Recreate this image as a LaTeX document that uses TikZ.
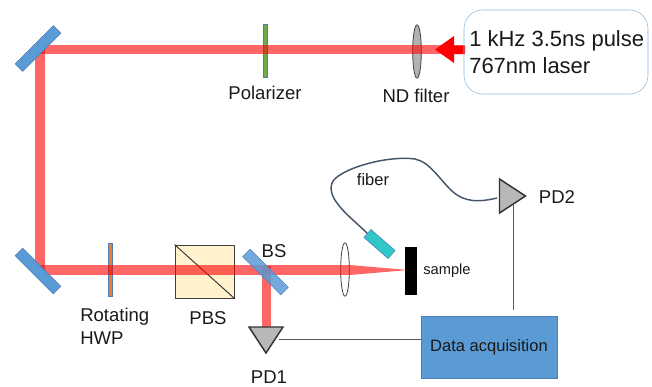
\documentclass[tikz,border=0pt]{standalone}
\usepackage{fontspec}
\usetikzlibrary{shapes.geometric}
\setmainfont{Liberation Sans}
\definecolor{mirrorblue}{HTML}{5B9BD5}
\definecolor{edgeblue}{HTML}{4A7EBB}
\definecolor{wiregray}{HTML}{595959}
\definecolor{fibercolor}{HTML}{44546A}
\definecolor{platefill}{HTML}{70AD47}
\definecolor{hwpfill}{HTML}{ED7D31}
\definecolor{pbsfill}{HTML}{FFF2CC}
\definecolor{tealfill}{HTML}{2FC7C7}
\tikzset{
  beam/.style={line width=6.9pt,red,opacity=0.6},
  mirror/.style={draw=edgeblue,fill=mirrorblue,minimum width=40.5pt,minimum height=8pt,inner sep=0pt},
  plate/.style={draw=edgeblue,minimum width=3pt,minimum height=40pt,inner sep=0pt},
  lens/.style={draw=black!75,line width=0.6pt,ellipse,minimum width=6.5pt,minimum height=40pt,inner sep=0pt},
  detector/.style={draw=black!80,fill=black!28,line width=1.1pt},
  wire/.style={draw=wiregray,line width=0.7pt},
  lbl/.style={font=\fontsize{13.9pt}{16.2pt}\selectfont,text=black!90,inner sep=0pt}
}
\begin{document}
\begin{tikzpicture}[x=0.75pt,y=-0.75pt]
  \useasboundingbox (0,0) rectangle (652,386);
  \def\mydetector{(-17,-13) -- (17,-13) -- (0,13) -- cycle}
  % parts under the beam
  \node [plate,fill=platefill] (polarizer) at (265,51) {};
  \node [plate,fill=hwpfill] (hwp) at (110,269.5) {};
  \node [draw=black!75,fill=pbsfill,line width=0.7pt,minimum width=44.25pt,minimum height=39.75pt,inner sep=0pt] (pbs) at (204.5,271.5) {};
  \draw [black!80,line width=0.7pt] (pbs.north west) -- (pbs.south east);
  \node [lens,fill=black!30] (ndfilter) at (417,51.5) {};
  \node [lens] (focuslens) at (345,269.5) {};
  \node [fill=black,minimum width=9pt,minimum height=36pt,inner sep=0pt] (sample) at (411,271) {};
  % laser beam
  \coordinate (beamstart) at (465,49.5);
  \coordinate (turntop) at (38,49.5);
  \coordinate (turnbottom) at (40,272);
  \coordinate (lensin) at (350,270);
  \draw [beam] (beamstart) -- (turntop);
  \draw [beam] (40,47) -- (turnbottom);
  \draw [beam] (38,270) -- (lensin);
  \draw [beam] (266.5,266) -- (266.5,327);
  \fill [red,opacity=0.6] (350,265) -- (408,270) -- (350,275) -- cycle;
  \fill [red] (465,45.5) -- (454,45.5) -- (454,36) -- (435,49.5) -- (454,63) -- (454,54) -- (465,54) -- cycle;
  \node [mirror,rotate=45] (mirrortop) at (38,48.5) {};
  \node [mirror,rotate=-45] (mirrorbottom) at (38,271) {};
  \node [mirror,rotate=-45,opacity=0.85] (bs) at (265.5,272) {};
  % detectors and wires
  \node [draw=mirrorblue!70,rounded corners=14pt,minimum width=138pt,minimum height=63pt,inner sep=0pt] (laser) at (556,52) {};
  \node [draw=edgeblue,fill=mirrorblue,minimum width=102pt,minimum height=46.5pt,inner sep=0pt] (daq) at (489,347) {};
  \node [lbl,font=\fontsize{12.4pt}{15pt}\selectfont] (daqtext) at (489,347) {Data acquisition};
  \draw [detector,shift={(266,340)}] \mydetector;
  \draw [detector,shift={(512.5,196)},rotate=90] \mydetector;
  \coordinate (pdoneout) at (279,339.5);
  \coordinate (pdtwoin) at (513,205);
  \coordinate (pdtwoend) at (513,310);
  \draw [wire] (pdoneout) -- (daq.west |- pdoneout);
  \draw [wire] (pdtwoin) -- (pdtwoend);
  % fiber
  \node [draw=edgeblue,fill=tealfill,minimum width=24pt,minimum height=8pt,inner sep=0pt,rotate=-41] (collimator) at (379.5,244) {};
  \coordinate (fiberend) at (497,198);
  \draw [fibercolor,line width=1.1pt] (collimator.west) .. controls (352,218) and (326,200) .. (332,183)
    .. controls (337,170) and (385,155) .. (415,159)
    .. controls (430,162) and (440,180) .. (452,191)
    .. controls (465,203) and (480,202) .. (fiberend);
  % labels
  \node [lbl] (polarizertext) at (265,93) {Polarizer};
  \node [lbl] (ndtext) at (416,96) {ND filter};
  \node [lbl,align=left,anchor=north west] (hwptext) at (80,307.5) {Rotating\\[1pt]HWP};
  \node [lbl] (pbstext) at (208,318) {PBS};
  \node [lbl] (bstext) at (274,251) {BS};
  \node [lbl] (pdonetext) at (269,377) {PD1};
  \node [lbl] (pdtwotext) at (557,197) {PD2};
  \node [lbl,font=\fontsize{12.4pt}{15pt}\selectfont] (fibertext) at (373,180) {fiber};
  \node [lbl,font=\fontsize{11pt}{13pt}\selectfont] (sampletext) at (447,271) {sample};
  \node [lbl,font=\fontsize{16.5pt}{20.2pt}\selectfont,align=left,anchor=west] (lasertext) at (469,52) {1 kHz 3.5ns pulse\\767nm laser};
\end{tikzpicture}
\end{document}
